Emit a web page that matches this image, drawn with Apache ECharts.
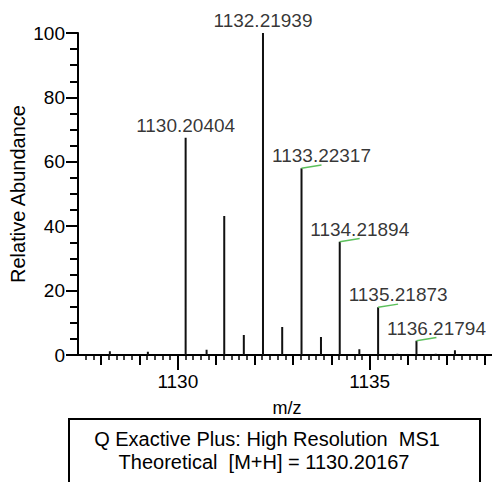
<!DOCTYPE html>
<html>
<head>
<meta charset="utf-8">
<script src="https://cdn.jsdelivr.net/npm/echarts@6/dist/echarts.min.js"></script>
<style>
  html, body { margin: 0; padding: 0; background: #fff; }
  #main { width: 492px; height: 482px; }
</style>
</head>
<body>
<div id="main"></div>
<script>
// peaks: m/z and relative abundance (%)
var peakMz = [1128.23, 1129.22, 1130.20404, 1130.75, 1131.21, 1131.72, 1132.21939, 1132.72,
              1133.22317, 1133.73, 1134.21894, 1134.73, 1135.21873, 1135.72, 1136.21794, 1136.72, 1137.22];
var peakHeight = [1.2, 1.0, 67.5, 1.6, 43.2, 6.2, 100, 8.7, 58.0, 5.6, 35.2, 1.8, 14.8, 0.4, 4.4, 0.4, 1.5];

// labelled peaks
var labelMz = [1130.20404, 1132.21939, 1133.22317, 1134.21894, 1135.21873, 1136.21794];
var labelHeight = [67.5, 100, 58.0, 35.2, 14.8, 4.4];
var labelShift = [0, 0, 20, 20, 20, 20];

// green theoretical markers: start at peak top, end slightly higher
var fitMz = [1133.22317, 1134.21894, 1135.21873, 1136.21794];
var fitStart = [58.0, 35.2, 14.8, 4.4];
var fitEnd = [59.0, 36.2, 15.8, 5.4];
var fitWidth = 0.52;

var xMin = 1127.40, xMax = 1138.29;
var majorTicks = [1130, 1135];
var unitTicks = [1128, 1129, 1130, 1131, 1132, 1133, 1134, 1135, 1136, 1137, 1138];
var minorStep = 0.2;
var minorTicks = [];
for (var t = 1127.6; t < xMax; t += minorStep) minorTicks.push(Math.round(t * 10) / 10);

var font = 'Liberation Sans, Arial, sans-serif';

var stickData = [];
for (var i = 0; i < peakMz.length; i++) {
    stickData.push([peakMz[i], 0]);
    stickData.push([peakMz[i], peakHeight[i]]);
    stickData.push([peakMz[i], null]);
}

var labelData = labelMz.map(function (m, i) {
    return {
        value: [m, labelHeight[i]],
        label: { offset: [labelShift[i], 0] }
    };
});

var fitData = fitMz.map(function (m, i) {
    return { coords: [[m, fitStart[i]], [m + fitWidth, fitEnd[i]]] };
});

var myChart = echarts.init(document.getElementById('main'), null, { renderer: 'svg' });
var baseX = {
    type: 'value', min: xMin, max: xMax, position: 'bottom',
    splitLine: { show: false },
    axisLine: { show: false },
    axisLabel: { show: false }
};
myChart.setOption({
    animation: false,
    textStyle: { fontFamily: font },
    grid: { left: 78, width: 418, top: 33, bottom: 127, containLabel: false, outerBoundsMode: 'none' },
    xAxis: [
        Object.assign({}, baseX, {
            name: 'm/z',
            nameLocation: 'middle',
            nameGap: 44,
            nameMoveOverlap: false,
            nameTextStyle: { fontSize: 18, color: '#000', fontFamily: font },
            axisLine: { show: true, onZero: false, lineStyle: { color: '#000', width: 2 } },
            axisTick: { show: true, length: 15, customValues: majorTicks, lineStyle: { color: '#000', width: 2 } },
            axisLabel: {
                show: true, customValues: majorTicks, margin: 17, fontSize: 19, color: '#000', fontFamily: font,
                formatter: function (v) { return String(v); }
            }
        }),
        Object.assign({}, baseX, {
            axisTick: { show: true, length: 10, customValues: unitTicks, lineStyle: { color: '#000', width: 2 } }
        }),
        Object.assign({}, baseX, {
            axisTick: { show: true, length: 5, customValues: minorTicks, lineStyle: { color: '#000', width: 1.5 } }
        })
    ],
    yAxis: {
        type: 'value', min: 0, max: 100, interval: 20,
        name: 'Relative Abundance',
        nameLocation: 'middle',
        nameGap: 50,
        nameMoveOverlap: false,
        nameTextStyle: { fontSize: 20, color: '#000', fontFamily: font },
        splitLine: { show: false },
        axisLine: { show: true, lineStyle: { color: '#000', width: 2 } },
        axisTick: { show: true, length: 12, lineStyle: { color: '#000', width: 2 } },
        minorTick: { show: true, splitNumber: 4, length: 8, lineStyle: { color: '#000', width: 2 } },
        axisLabel: { margin: 13, fontSize: 19, color: '#000', fontFamily: font }
    },
    series: [
        {
            type: 'line',
            data: stickData,
            connectNulls: false,
            showSymbol: false,
            symbol: 'none',
            lineStyle: { color: '#111', width: 2 },
            z: 2
        },
        {
            type: 'lines',
            coordinateSystem: 'cartesian2d',
            data: fitData,
            lineStyle: { color: '#5cc05c', width: 1.5, opacity: 1 },
            z: 3
        },
        {
            type: 'scatter',
            data: labelData,
            symbolSize: 0,
            label: {
                show: true,
                position: 'top',
                distance: 3,
                fontSize: 19,
                color: '#000',
                fontFamily: font,
                formatter: function (p) { return p.value[0].toFixed(5); }
            },
            z: 4
        }
    ],
    graphic: [
        {
            type: 'rect',
            shape: { x: 69, y: 419, width: 411, height: 80 },
            style: { fill: '#fff', stroke: '#000', lineWidth: 2 }
        },
        {
            type: 'text',
            x: 267, y: 439,
            style: { text: 'Q Exactive Plus: High Resolution  MS1', fontSize: 20, fontFamily: font, fill: '#000', align: 'center', verticalAlign: 'middle' }
        },
        {
            type: 'text',
            x: 264, y: 462,
            style: { text: 'Theoretical  [M+H] = 1130.20167', fontSize: 20, fontFamily: font, fill: '#000', align: 'center', verticalAlign: 'middle' }
        }
    ]
});
</script>
</body>
</html>
